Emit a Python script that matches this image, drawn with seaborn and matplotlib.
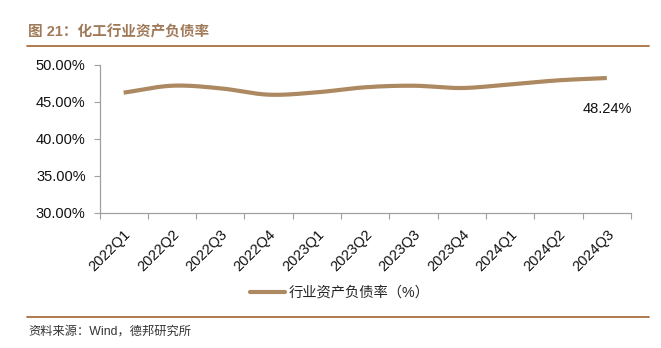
import numpy as np
import pandas as pd
import matplotlib
matplotlib.use("Agg")
import matplotlib.pyplot as plt
from matplotlib.lines import Line2D
import seaborn as sns

# Quarterly debt-to-asset ratio of the chemical industry (%)
quarters = ["2022Q1", "2022Q2", "2022Q3", "2022Q4", "2023Q1", "2023Q2",
            "2023Q3", "2023Q4", "2024Q1", "2024Q2", "2024Q3"]
ratio = [46.26, 47.20, 46.85, 45.99, 46.31, 46.99, 47.20, 46.89, 47.39, 47.93, 48.24]
y_ticks = [30, 35, 40, 45, 50]

title_text = "图 21：化工行业资产负债率"
series_name = "行业资产负债率（%）"
source_text = "资料来源：Wind，德邦研究所"

LINE_COLOR = "#AD8962"
RULE_COLOR = "#A8703F"
TITLE_COLOR = "#A07A58"

sns.set_theme(style="white")
plt.rcParams["font.family"] = ["Liberation Sans", "Noto Sans CJK SC", "DejaVu Sans"]


def smooth_curve(xv, yv, steps=24):
    """Catmull-Rom style smoothing for display of a line through the given points."""
    xv = np.asarray(xv, float)
    yv = np.asarray(yv, float)
    px = np.concatenate([[2 * xv[0] - xv[1]], xv, [2 * xv[-1] - xv[-2]]])
    py = np.concatenate([[2 * yv[0] - yv[1]], yv, [2 * yv[-1] - yv[-2]]])
    outx, outy = [], []
    t = np.linspace(0, 1, steps, endpoint=False)
    for i in range(1, len(px) - 2):
        for arr, out in ((px, outx), (py, outy)):
            p0, p1, p2, p3 = arr[i - 1], arr[i], arr[i + 1], arr[i + 2]
            out.extend(0.5 * ((2 * p1) + (-p0 + p2) * t
                              + (2 * p0 - 5 * p1 + 4 * p2 - p3) * t ** 2
                              + (-p0 + 3 * p1 - 3 * p2 + p3) * t ** 3))
    outx.append(xv[-1])
    outy.append(yv[-1])
    return np.array(outx), np.array(outy)


df = pd.DataFrame({"quarter": quarters, "ratio": ratio})
df["pos"] = np.arange(len(df))
sx, sy = smooth_curve(df["pos"], df["ratio"])
curve = pd.DataFrame({"pos": sx, "ratio": sy})

fig = plt.figure(figsize=(6.61, 3.48), dpi=100)
ax = fig.add_axes([99.5 / 661, 1 - 213 / 348, (631 - 99.5) / 661, (213 - 65) / 348])

sns.lineplot(data=curve, x="pos", y="ratio", sort=False, ax=ax,
             color=LINE_COLOR, linewidth=3.0, solid_capstyle="butt")

ax.set_xlim(-0.5, len(quarters) - 0.5)
ax.set_ylim(30, 50)
ax.set_yticks(y_ticks)
ax.set_yticklabels([f"{v:.2f}%" for v in y_ticks], fontsize=10.5, color="#111111")

# category boundaries carry the tick marks, centres carry the labels
ax.set_xticks(np.arange(len(quarters) + 1) - 0.5)
ax.set_xticklabels([])
ax.set_xticks(np.arange(len(quarters)), minor=True)
ax.set_xticklabels(quarters, minor=True, rotation=45, ha="right",
                   rotation_mode="anchor", fontsize=10.5, color="#111111")
ax.tick_params(axis="x", which="major", direction="out", length=4, width=0.8,
               color="#A0A0A0", bottom=True)
ax.tick_params(axis="x", which="minor", length=0, pad=10)
ax.tick_params(axis="y", direction="out", length=4, width=0.8, color="#A0A0A0",
               left=True, pad=6)
ax.set_xlabel("")
ax.set_ylabel("")
for side in ("top", "right"):
    ax.spines[side].set_visible(False)
for side in ("left", "bottom"):
    ax.spines[side].set_color("#A0A0A0")
    ax.spines[side].set_linewidth(0.9)
ax.grid(False)

# value label for the latest quarter
ax.annotate(f"{ratio[-1]:.2f}%", xy=(len(ratio) - 1, ratio[-1]), xytext=(0, -22),
            textcoords="offset points", ha="center", va="center",
            fontsize=10.5, color="#111111")

handle = Line2D([], [], color=LINE_COLOR, linewidth=3.0)
fig.legend([handle], [series_name], loc="center", bbox_to_anchor=(340 / 661, 1 - 293 / 348),
           frameon=False, fontsize=10.3, handlelength=2.4, handletextpad=0.3)

# header and footer
fig.text(28 / 661, 1 - 32 / 348, title_text, fontsize=10.5, fontweight="bold",
         color=TITLE_COLOR, ha="left", va="center")
fig.add_artist(Line2D([27 / 661, 649 / 661], [1 - 45.7 / 348] * 2,
                      color=RULE_COLOR, linewidth=1.3))
fig.add_artist(Line2D([27 / 661, 649 / 661], [1 - 316.7 / 348] * 2,
                      color=RULE_COLOR, linewidth=1.3))
fig.text(28 / 661, 1 - 332 / 348, source_text, fontsize=8.8, color="#333333",
         ha="left", va="center")

fig.savefig("out.png", dpi=100, facecolor="white")
